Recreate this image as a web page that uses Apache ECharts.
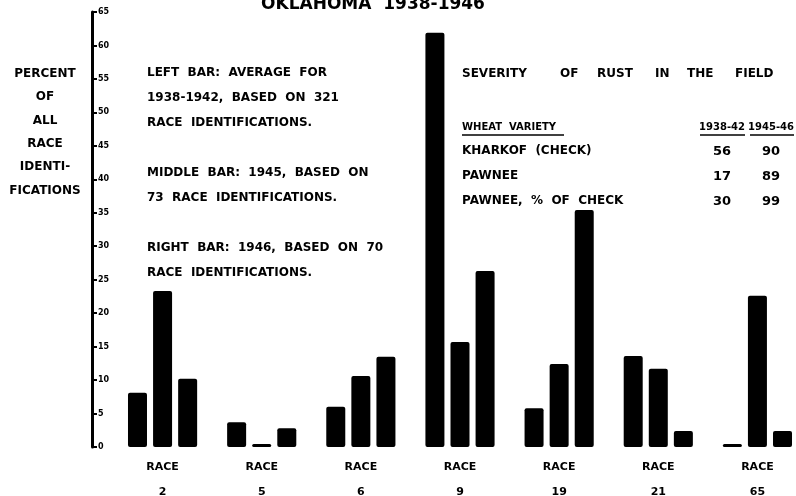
<!DOCTYPE html>
<html>
<head>
<meta charset="utf-8">
<script src="https://cdn.jsdelivr.net/npm/echarts@6/dist/echarts.min.js"></script>
<style>html,body{margin:0;padding:0;background:#fff}#c{width:796px;height:496px}</style>
</head>
<body>
<div id="c"></div>
<script>
// ---- data ----
var categories = ['2', '5', '6', '9', '19', '21', '65'];
var leftBar = [8.1, 3.7, 6.0, 61.9, 5.8, 13.6, 0];      // 1938-1942 average
var middleBar = [23.3, 0, 10.6, 15.7, 12.4, 11.7, 22.6]; // 1945
var rightBar = [10.2, 2.8, 13.5, 26.3, 35.4, 2.4, 2.4];  // 1946
var yMin = 0, yMax = 65, yStep = 5;
var titleText = 'OKLAHOMA  1938-1946';
var yAxisTitle = ['PERCENT', 'OF', 'ALL', 'RACE', 'IDENTI-', 'FICATIONS'];
var noteLines = [
  'LEFT  BAR:  AVERAGE  FOR',
  '1938-1942,  BASED  ON  321',
  'RACE  IDENTIFICATIONS.',
  '',
  'MIDDLE  BAR:  1945,  BASED  ON',
  '73  RACE  IDENTIFICATIONS.',
  '',
  'RIGHT  BAR:  1946,  BASED  ON  70',
  'RACE  IDENTIFICATIONS.'
];
var tableTitleWords = ['SEVERITY', 'OF', 'RUST', 'IN', 'THE', 'FIELD'];
var tableHeader = ['WHEAT  VARIETY', '1938-42', '1945-46'];
var tableVarieties = ['KHARKOF  (CHECK)', 'PAWNEE', 'PAWNEE,  %  OF  CHECK'];
var severity3842 = [56, 17, 30];
var severity4546 = [90, 89, 99];

// ---- chart ----
var FONT = "'DejaVu Sans', Verdana, sans-serif";
var chart = echarts.init(document.getElementById('c'), null, {renderer: 'canvas'});
var g = [];
g.push({type: 'text', x: 373, y: -4, style: {text: titleText, font: 'bold 17px ' + FONT, fill: '#000', align: 'center'}});
yAxisTitle.forEach(function (t, i) {
  g.push({type: 'text', x: 45, y: 68 + i * 23.3, style: {text: t, font: 'bold 12px ' + FONT, fill: '#000', align: 'center'}});
});
noteLines.forEach(function (t, i) {
  g.push({type: 'text', x: 147, y: 67 + i * 25, style: {text: t, font: 'bold 12px ' + FONT, fill: '#000'}});
});
var titleWordX = [462, 560, 597, 655, 687, 735];
tableTitleWords.forEach(function (t, i) {
  g.push({type: 'text', x: titleWordX[i], y: 68, style: {text: t, font: 'bold 12px ' + FONT, fill: '#000'}});
});
var hx = [462, 722, 771];
var ha = ['left', 'center', 'center'];
tableHeader.forEach(function (t, i) {
  g.push({type: 'text', x: hx[i], y: 122, style: {text: t, font: 'bold 10px ' + FONT, fill: '#000', align: ha[i]}});
});
// underline header
g.push({type: 'line', shape: {x1: 462, y1: 135, x2: 564, y2: 135}, style: {stroke: '#000', lineWidth: 1.5}});
g.push({type: 'line', shape: {x1: 700, y1: 135, x2: 745, y2: 135}, style: {stroke: '#000', lineWidth: 1.5}});
g.push({type: 'line', shape: {x1: 750, y1: 135, x2: 794, y2: 135}, style: {stroke: '#000', lineWidth: 1.5}});
tableVarieties.forEach(function (t, i) {
  var y = 145 + i * 25;
  g.push({type: 'text', x: 462, y: y, style: {text: t, font: 'bold 12px ' + FONT, fill: '#000'}});
  g.push({type: 'text', x: 722, y: y, style: {text: String(severity3842[i]), font: 'bold 13px ' + FONT, fill: '#000', align: 'center'}});
  g.push({type: 'text', x: 771, y: y, style: {text: String(severity4546[i]), font: 'bold 13px ' + FONT, fill: '#000', align: 'center'}});
});

function barSeries(data) {
  return {
    type: 'bar', data: data, barWidth: 19, barGap: '32%', barMinHeight: 3,
    itemStyle: {color: '#000', borderRadius: 2}, silent: true, animation: false
  };
}

chart.setOption({
  animation: false,
  backgroundColor: '#fff',
  grid: {left: 113, top: 12, width: 694, height: 435, containLabel: false, outerBoundsMode: 'none'},
  xAxis: {
    type: 'category', data: categories,
    axisLine: {show: false}, axisTick: {show: false},
    axisLabel: {
      margin: 8, lineHeight: 25, color: '#000', fontWeight: 'bold', fontSize: 11, fontFamily: FONT,
      formatter: function (v) { return 'RACE\n' + v; }
    }
  },
  yAxis: {
    type: 'value', min: yMin, max: yMax, interval: yStep, offset: 21,
    splitLine: {show: false},
    axisLine: {show: true, lineStyle: {color: '#000', width: 3}},
    axisTick: {show: true, inside: true, length: 5, lineStyle: {color: '#000', width: 2}},
    axisLabel: {inside: true, margin: 6, color: '#000', fontSize: 8, fontWeight: 'bold', fontFamily: FONT}
  },
  series: [barSeries(leftBar), barSeries(middleBar), barSeries(rightBar)],
  graphic: g
});
</script>
</body>
</html>
